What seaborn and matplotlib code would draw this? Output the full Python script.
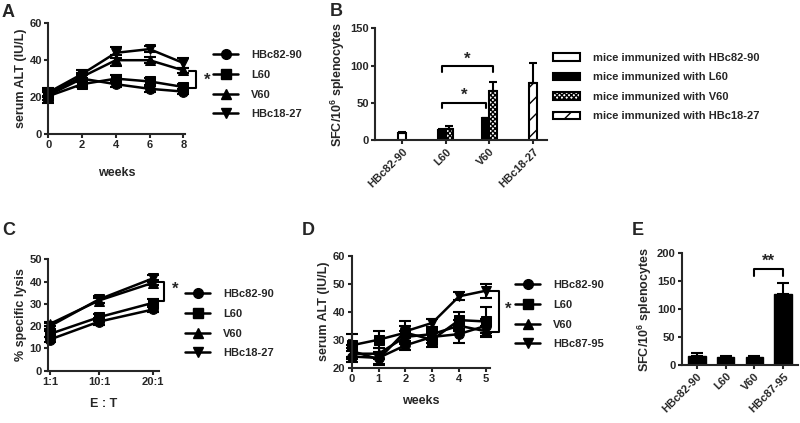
import matplotlib
matplotlib.use('Agg')
import numpy as np
import pandas as pd
import matplotlib.pyplot as plt
from matplotlib.lines import Line2D
from matplotlib.patches import Patch
import seaborn as sns

# ---- panel A: serum ALT over 8 weeks ----
a_weeks = [0, 2, 4, 6, 8]
a_groups = ['HBc82-90', 'L60', 'V60', 'HBc18-27']
a_hbc8290 = [21, 30, 27, 24.5, 23]
a_hbc8290_err = [4, 2, 1.5, 1.5, 1.5]
a_l60 = [20.5, 27, 30, 28.5, 25.5]
a_l60_err = [2, 1.5, 2, 2, 1.5]
a_v60 = [22, 31, 40, 40, 34.5]
a_v60_err = [2, 2, 3, 1.5, 1.5]
a_hbc1827 = [22.5, 32.5, 44, 46, 38.5]
a_hbc1827_err = [2, 2, 3, 1.5, 2.5]

# ---- panel B: ELISPOT, grouped by stimulating peptide ----
b_peptides = ['HBc82-90', 'L60', 'V60', 'HBc18-27']
b_mice = ['mice immunized with HBc82-90', 'mice immunized with L60',
          'mice immunized with V60', 'mice immunized with HBc18-27']
b_single_pep = ['HBc82-90', 'HBc18-27']
b_single_mice = ['mice immunized with HBc82-90', 'mice immunized with HBc18-27']
b_single_val = [10, 77.5]
b_single_err = [1.5, 26]
b_pair_pep = ['L60', 'L60', 'V60', 'V60']
b_pair_mice = ['mice immunized with L60', 'mice immunized with V60',
               'mice immunized with L60', 'mice immunized with V60']
b_pair_val = [13.5, 15.5, 29.5, 66.5]
b_pair_err = [1.5, 4, 1, 12]

# ---- panel C: CTL lysis ----
c_ratio = [1, 10, 20]
c_ratio_labels = ['1:1', '10:1', '20:1']
c_hbc8290 = [14, 22, 27.5]
c_hbc8290_err = [1, 1.5, 1]
c_l60 = [16.5, 24, 30.5]
c_l60_err = [1.5, 1.5, 1.5]
c_v60 = [21, 31.5, 39.5]
c_v60_err = [1, 1, 1]
c_hbc1827 = [20, 32, 41.5]
c_hbc1827_err = [1.5, 1.5, 1.5]

# ---- panel D: serum ALT over 5 weeks ----
d_weeks = [0, 1, 2, 3, 4, 5]
d_groups = ['HBc82-90', 'L60', 'V60', 'HBc87-95']
d_hbc8290 = [24, 23.5, 28, 31, 32, 35]
d_hbc8290_err = [2, 2, 1.5, 2, 3, 2.5]
d_l60 = [28, 30, 32.5, 30, 37, 36.5]
d_l60_err = [4, 3, 4, 2.5, 3, 5]
d_v60 = [25, 25, 31, 32, 35, 33]
d_v60_err = [2, 2, 2, 2, 2, 2]
d_hbc8795 = [26, 23, 33, 36, 45.5, 47.5]
d_hbc8795_err = [2, 2, 2, 1.5, 1.5, 2.5]

# ---- panel E: ELISPOT ----
e_peptides = ['HBc82-90', 'L60', 'V60', 'HBc87-95']
e_val = [17, 14, 15, 128]
e_err = [4, 3, 2, 18]

markers = ['o', 's', '^', 'v']

sns.set_style('ticks')
plt.rcParams['font.family'] = ['Liberation Sans', 'DejaVu Sans']
plt.rcParams['font.weight'] = 'bold'
plt.rcParams['axes.labelweight'] = 'bold'
plt.rcParams['mathtext.fontset'] = 'custom'
plt.rcParams['mathtext.rm'] = 'Liberation Sans:bold'
plt.rcParams['mathtext.default'] = 'rm'
plt.rcParams['hatch.linewidth'] = 1.0

fig = plt.figure(figsize=(8, 4.23), dpi=100)
H = 423.0
W = 800.0


def rect(x0, y_bottom, x1, y_top):
    return [x0 / W, 1 - y_bottom / H, (x1 - x0) / W, (y_bottom - y_top) / H]


def style(ax):
    sns.despine(ax=ax)
    ax.spines['left'].set_linewidth(1.5)
    ax.spines['bottom'].set_linewidth(1.5)
    ax.tick_params(direction='out', length=3, width=1.5, labelsize=8, pad=1.5)


def line_panel(ax, x, groups, means, errs):
    df = pd.DataFrame({'x': np.tile(x, len(groups)),
                       'y': np.concatenate(means),
                       'group': np.repeat(groups, len(x))})
    sns.lineplot(data=df, x='x', y='y', hue='group', style='group',
                 hue_order=groups, style_order=groups,
                 palette=['black'] * len(groups), markers=markers, dashes=False,
                 markersize=7, linewidth=1.8, markeredgecolor='black',
                 errorbar=None, legend=False, ax=ax, clip_on=False)
    for m, e in zip(means, errs):
        ax.errorbar(x, m, yerr=e, fmt='none', ecolor='black', elinewidth=1.5,
                    capsize=4, capthick=1.5, clip_on=False)


def line_legend(ax, groups, left, top):
    handles = [Line2D([], [], color='black', lw=1.8, marker=m, markersize=7)
               for m in markers]
    ax.legend(handles, groups, loc='upper left', bbox_to_anchor=(left / W, 1 - top / H),
              bbox_transform=fig.transFigure, frameon=False, fontsize=8,
              handlelength=2.25, handletextpad=1.2, labelspacing=0.88,
              borderpad=0, borderaxespad=0)


def vbracket(ax, x, y0, y1, hook, star_x, star_y):
    ax.plot([x - hook, x, x, x - hook], [y1, y1, y0, y0], color='black', lw=1.5, clip_on=False)
    ax.text(star_x, star_y, '*', fontsize=12, ha='center', va='center')


def hbracket(ax, x0, x1, y, drop, text):
    ax.plot([x0, x0, x1, x1], [y - drop, y, y, y - drop], color='black', lw=1.5, clip_on=False)
    ax.text((x0 + x1) / 2, y, text, fontsize=12, ha='center', va='bottom')


# ================= A =================
axA = fig.add_axes(rect(48.3, 134, 185, 23.3))
line_panel(axA, a_weeks, a_groups,
           [a_hbc8290, a_l60, a_v60, a_hbc1827],
           [a_hbc8290_err, a_l60_err, a_v60_err, a_hbc1827_err])
axA.set_xlim(0, 8.1)
axA.set_ylim(0, 60)
axA.set_xticks(a_weeks)
axA.set_yticks([0, 20, 40, 60])
axA.set_xlabel('weeks', fontsize=9, labelpad=12)
axA.set_ylabel('serum ALT (IU/L)', fontsize=9, labelpad=2)
style(axA)
vbracket(axA, 8.76, 24.7, 34.2, 0.45, 9.4, 29.0)
line_legend(axA, a_groups, 213, 50)

# ================= B =================
axB = fig.add_axes(rect(375, 140.5, 547, 28.3))
fills = {b_mice[0]: ('white', ''), b_mice[1]: ('black', ''),
         b_mice[2]: ('white', 'xxxxxxx'), b_mice[3]: ('white', '//')}
err_lookup = {}
for p, m, e in zip(b_single_pep, b_single_mice, b_single_err):
    err_lookup[(p, m)] = e
for p, m, e in zip(b_pair_pep, b_pair_mice, b_pair_err):
    err_lookup[(p, m)] = e

centers = {}
n0 = len(axB.containers)
sns.barplot(x=b_single_pep, y=b_single_val, hue=b_single_mice, order=b_peptides,
            hue_order=b_single_mice, dodge=False, width=0.17, saturation=1,
            palette=['white', 'white'], edgecolor='black', linewidth=1.5,
            legend=False, ax=axB)
for cont, m in zip(axB.containers[n0:], b_single_mice):
    for bar in cont:
        cx = bar.get_x() + bar.get_width() / 2
        centers[(b_peptides[int(round(cx))], m)] = (cx, bar.get_height())
n0 = len(axB.containers)
sns.barplot(x=b_pair_pep, y=b_pair_val, hue=b_pair_mice, order=b_peptides,
            hue_order=[b_mice[1], b_mice[2]], dodge=True, width=0.34, saturation=1,
            palette=['black', 'white'], edgecolor='black', linewidth=1.5,
            legend=False, ax=axB)
for cont, m in zip(axB.containers[n0:], [b_mice[1], b_mice[2]]):
    for bar in cont:
        cx = bar.get_x() + bar.get_width() / 2
        centers[(b_peptides[int(round(cx))], m)] = (cx, bar.get_height())
for cont in axB.containers:
    for bar in cont:
        cx = bar.get_x() + bar.get_width() / 2
        for key, (kx, kh) in centers.items():
            if abs(kx - cx) < 1e-6:
                bar.set_facecolor(fills[key[1]][0])
                bar.set_hatch(fills[key[1]][1])
for key, (cx, h) in centers.items():
    axB.errorbar([cx], [h], yerr=[[0], [err_lookup[key]]], fmt='none', ecolor='black',
                 elinewidth=1.5, capsize=3, capthick=1.5, clip_on=False)
axB.set_xlim(-0.62, 3.32)
axB.set_ylim(0, 150)
axB.set_yticks([0, 50, 100, 150])
axB.set_xlabel('')
axB.set_ylabel('SFC/10$^{6}$ splenocytes', fontsize=9, labelpad=2)
style(axB)
plt.setp(axB.get_xticklabels(), rotation=45, ha='right', rotation_mode='anchor')
l60_black = centers[('L60', b_mice[1])][0]
v60_black = centers[('V60', b_mice[1])][0]
v60_dot = centers[('V60', b_mice[2])][0]
hbracket(axB, l60_black, v60_dot, 99, 8, '*')
hbracket(axB, l60_black, v60_black, 50, 7, '*')
b_handles = [Patch(facecolor=fills[m][0], hatch=fills[m][1], edgecolor='black', lw=1.5)
             for m in b_mice]
axB.legend(b_handles, b_mice, loc='upper left', bbox_to_anchor=(553 / W, 1 - 53 / H),
           bbox_transform=fig.transFigure, frameon=False, fontsize=8,
           handlelength=2.4, handleheight=0.65, handletextpad=1.2, labelspacing=0.85,
           borderpad=0, borderaxespad=0)

# ================= C =================
axC = fig.add_axes(rect(48.3, 370.7, 158.7, 259.3))
line_panel(axC, c_ratio, a_groups,
           [c_hbc8290, c_l60, c_v60, c_hbc1827],
           [c_hbc8290_err, c_l60_err, c_v60_err, c_hbc1827_err])
axC.set_xlim(0.7, 21)
axC.set_ylim(0, 50)
axC.set_xticks(c_ratio)
axC.set_xticklabels(c_ratio_labels)
axC.set_yticks([0, 10, 20, 30, 40, 50])
axC.set_xlabel('E : T', fontsize=9, labelpad=8)
axC.set_ylabel('% specific lysis', fontsize=9, labelpad=2)
style(axC)
vbracket(axC, 22.0, 31.4, 39.7, 1.6, 24.0, 36.5)
line_legend(axC, a_groups, 185, 289)

# ================= D =================
axD = fig.add_axes(rect(351.7, 367.7, 490, 255.7))
line_panel(axD, d_weeks, d_groups,
           [d_hbc8290, d_l60, d_v60, d_hbc8795],
           [d_hbc8290_err, d_l60_err, d_v60_err, d_hbc8795_err])
axD.set_xlim(0, 5.15)
axD.set_ylim(20, 60)
axD.set_xticks(d_weeks)
axD.set_yticks([20, 30, 40, 50, 60])
axD.set_xlabel('weeks', fontsize=9, labelpad=8)
axD.set_ylabel('serum ALT (IU/L)', fontsize=9, labelpad=2)
style(axD)
vbracket(axD, 5.5, 32.9, 47.4, 0.42, 5.83, 41.0)
line_legend(axD, d_groups, 515, 280)

# ================= E =================
axE = fig.add_axes(rect(681.7, 365, 798, 253.3))
sns.barplot(x=e_peptides, y=e_val, color='black', saturation=1, width=0.6,
            edgecolor='black', ax=axE)
e_centers = []
for bar, e in zip(axE.patches, e_err):
    cx = bar.get_x() + bar.get_width() / 2
    e_centers.append(cx)
    axE.errorbar([cx], [bar.get_height()], yerr=[[0], [e]], fmt='none', ecolor='black',
                 elinewidth=1.5, capsize=4, capthick=1.5, clip_on=False)
axE.set_xlim(-0.53, 3.52)
axE.set_ylim(0, 200)
axE.set_yticks([0, 50, 100, 150, 200])
axE.set_ylabel('SFC/10$^{6}$ splenocytes', fontsize=9, labelpad=2)
style(axE)
plt.setp(axE.get_xticklabels(), rotation=45, ha='right', rotation_mode='anchor')
hbracket(axE, e_centers[2], e_centers[3], 172, 12, '**')

# panel letters
for letter, x, y in [('A', 2, 4), ('B', 330, 3), ('C', 2, 222), ('D', 302, 222), ('E', 632, 222)]:
    fig.text(x / W, 1 - y / H, letter, fontsize=13, fontweight='bold', va='top', ha='left')

fig.savefig('out.png', dpi=100)
